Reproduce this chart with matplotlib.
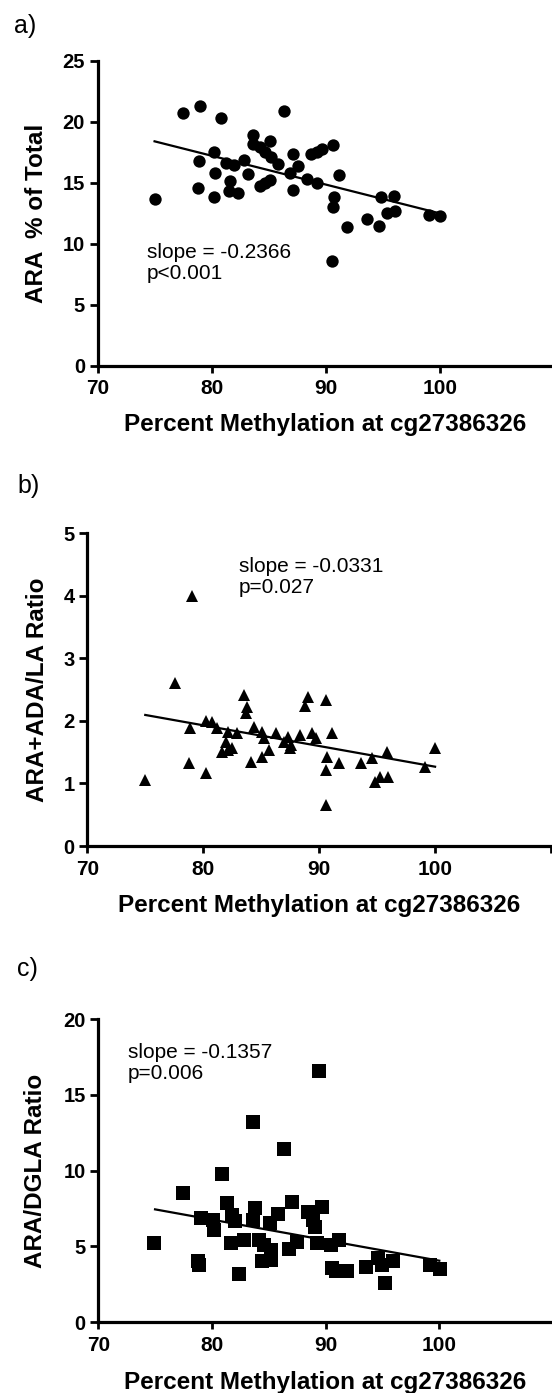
import matplotlib
matplotlib.use("Agg")
import matplotlib.pyplot as plt
import numpy as np

plt.rcParams['font.family'] = ['Liberation Sans', 'DejaVu Sans']

# ---------------- data ----------------
# a) ARA % of Total
xa = [75.0, 77.5, 79.0, 78.85, 78.8, 80.2, 80.3, 80.25, 80.85, 81.3, 81.65, 81.5,
      82.35, 81.95, 82.8, 83.15, 83.65, 83.65, 84.25, 84.65, 85.1, 85.2, 84.25, 84.65,
      85.15, 85.8, 86.35, 86.85, 87.1, 87.55, 87.1, 88.4, 88.75, 89.25, 89.65, 89.25,
      90.6, 90.7, 90.65, 91.2, 90.55, 91.85, 93.65, 94.65, 94.8, 95.95, 95.35, 96.05,
      99.05, 100.05]
ya = [13.7, 20.75, 21.3, 16.8, 14.55, 17.5, 15.8, 13.85, 20.3, 16.6, 15.15, 14.35,
      14.15, 16.45, 16.9, 15.75, 18.95, 18.2, 17.95, 17.55, 18.4, 17.15, 14.7, 14.95,
      15.25, 16.55, 20.9, 15.8, 17.4, 16.35, 14.4, 15.3, 17.35, 17.55, 17.75, 14.95,
      18.1, 13.85, 13.0, 15.65, 8.55, 11.4, 12.05, 11.45, 13.8, 13.9, 12.5, 12.65,
      12.35, 12.3]

# b) ARA+ADA/LA Ratio
xb = [74.95, 77.55, 79.0, 78.85, 78.75, 80.25, 80.2, 80.8, 81.2, 81.6, 82.0, 82.15,
      82.1, 82.95, 83.5, 83.8, 83.65, 84.1, 84.4, 85.05, 85.05, 85.2, 85.7, 86.3,
      87.0, 87.3, 87.45, 87.6, 88.35, 88.75, 89.05, 89.4, 89.7, 90.6, 90.7, 90.6,
      90.55, 91.1, 91.75, 93.65, 94.6, 94.8, 95.25, 95.85, 95.9, 99.1, 100.0, 82.5]
yb = [1.05, 2.6, 4.0, 1.88, 1.32, 1.17, 2.0, 1.99, 1.88, 1.51, 1.67, 1.54,
      1.83, 1.81, 2.41, 2.23, 2.12, 1.35, 1.91, 1.43, 1.83, 1.72, 1.54, 1.8,
      1.67, 1.75, 1.56, 1.62, 1.78, 2.24, 2.38, 1.8, 1.72, 2.33, 1.43, 1.22,
      0.66, 1.81, 1.33, 1.32, 1.4, 1.03, 1.11, 1.51, 1.11, 1.26, 1.57, 1.56]

# c) ARA/DGLA Ratio
xc = [74.9, 77.5, 78.8, 78.9, 79.05, 80.1, 80.15, 80.85, 81.35, 81.65, 81.8, 82.05,
      82.35, 82.8, 83.6, 83.8, 83.65, 84.1, 84.45, 84.6, 85.1, 85.2, 85.2, 85.8,
      86.3, 87.05, 86.8, 87.5, 88.45, 88.85, 89.05, 89.4, 89.7, 89.25, 90.45, 91.2,
      90.6, 90.95, 91.85, 93.55, 94.65, 95.25, 95.9, 94.95, 99.15, 100.05]
yc = [5.25, 8.5, 4.0, 3.75, 6.85, 6.75, 6.1, 9.8, 7.85, 5.2, 7.05, 6.65,
      3.15, 5.45, 13.2, 7.5, 6.75, 5.4, 4.0, 5.1, 6.55, 4.75, 4.1, 7.15,
      11.4, 7.95, 4.85, 5.3, 7.3, 6.75, 6.3, 16.6, 7.6, 5.2, 5.1, 5.4,
      3.55, 3.35, 3.35, 3.65, 4.2, 2.6, 4.0, 3.75, 3.75, 3.5]

panel_tags = ["a)", "b)", "c)"]
ylabels = ["ARA  % of Total", "ARA+ADA/LA Ratio", "ARA/DGLA Ratio"]
xlabel = "Percent Methylation at cg27386326"
slopes = [-0.2366, -0.0331, -0.1357]
intercepts = [36.15, 4.578, 17.62]
line_range = [75, 100]
annotations = ["slope = -0.2366\np<0.001", "slope = -0.0331\np=0.027", "slope = -0.1357\np=0.006"]
yticks_list = [[0, 5, 10, 15, 20, 25], [0, 1, 2, 3, 4, 5], [0, 5, 10, 15, 20]]
xticks = [70, 80, 90, 100, 110]
xticklabels = ["70", "80", "90", "100", ""]

# ---------------- layout (pixels) ----------------
W, H = 552, 1393
fig = plt.figure(figsize=(W / 100, H / 100), dpi=100)

# (left px, right px, top px, bottom px)
boxes = [(97.5, 554.0, 61.0, 365.5),
         (87.3, 551.0, 533.3, 846.0),
         (98.2, 553.0, 1019.3, 1322.0)]
ann_pos = [(74.3, 10.05), (83.05, 4.62), (72.58, 18.45)]
tag_pos = [(14, 14), (17, 474), (17, 957)]
ylab_x = [37, 38, 36]
xlab_base = [431.5, 912.0, 1388.5]
markers = ["o", "^", "s"]
msizes = [8.9, 9.2, 9.4]

datasets = [(xa, ya), (xb, yb), (xc, yc)]

for i, ((x, y), box) in enumerate(zip(datasets, boxes)):
    l, r, t, b = box
    ax = fig.add_axes([l / W, 1 - b / H, (r - l) / W, (b - t) / H])
    ax.plot(x, y, linestyle="none", marker=markers[i], markersize=msizes[i],
            color="black", markeredgewidth=0)
    lx = np.array(line_range, dtype=float)
    ax.plot(lx, slopes[i] * lx + intercepts[i], color="black", lw=1.6)
    yt = yticks_list[i]
    ax.set_xlim(70, 110)
    ax.set_ylim(yt[0], yt[-1])
    ax.set_yticks(yt)
    ax.set_xticks(xticks)
    ax.set_xticklabels(xticklabels)
    for s in ["top", "right"]:
        ax.spines[s].set_visible(False)
    for s in ["left", "bottom"]:
        ax.spines[s].set_linewidth(2.3)
    ax.spines["left"].set_capstyle("projecting")
    ax.spines["bottom"].set_capstyle("projecting")
    ax.tick_params(axis="y", length=6, width=2.0, pad=3, labelsize=14.5)
    ax.tick_params(axis="x", length=5, width=2.0, pad=5, labelsize=15)
    for lab in ax.get_xticklabels() + ax.get_yticklabels():
        lab.set_fontweight("bold")
    ax.patch.set_alpha(0)
    ax.text(ann_pos[i][0], ann_pos[i][1], annotations[i], fontsize=15,
            va="top", ha="left", linespacing=1.15)

    fig.text(tag_pos[i][0] / W, 1 - tag_pos[i][1] / H, panel_tags[i],
             fontsize=18, va="top", ha="left")
    fig.text(ylab_x[i] / W, 1 - ((t + b) / 2) / H, ylabels[i], rotation=90,
             fontsize=17.5, fontweight="bold", va="center", ha="center")
    fig.text(((l + min(r, W)) / 2) / W, 1 - xlab_base[i] / H, xlabel,
             fontsize=17.5, fontweight="bold", va="baseline", ha="center")

fig.savefig("out.png", dpi=100)
